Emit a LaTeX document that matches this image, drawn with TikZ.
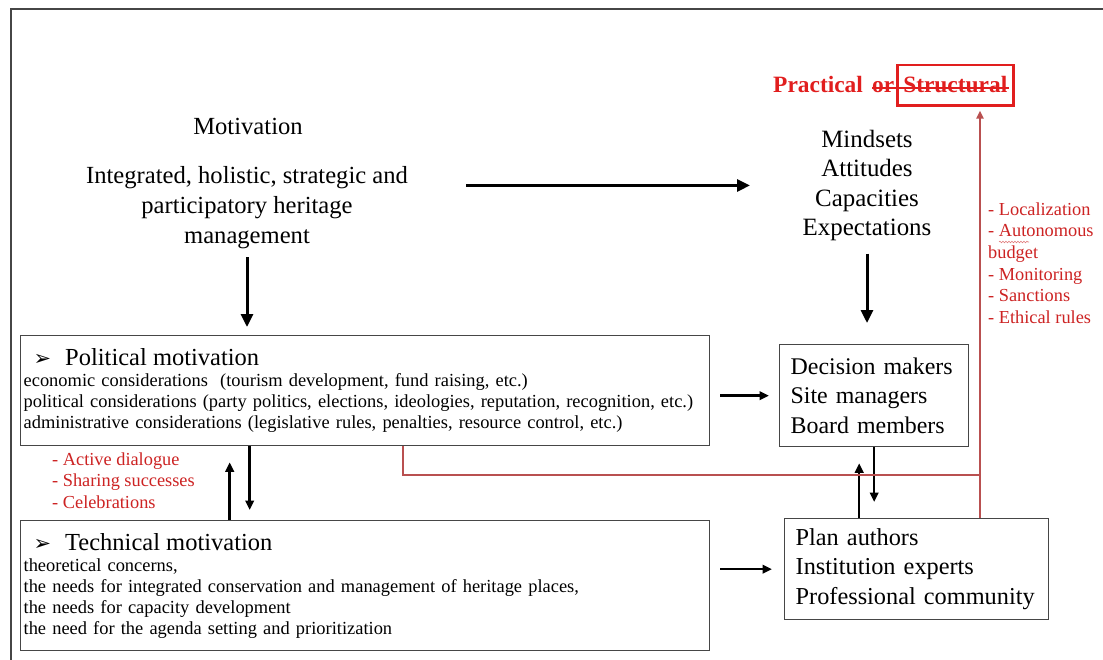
\documentclass[tikz,border=0pt]{standalone}
\usepackage{fontspec}
\setmainfont{Liberation Serif}
\newfontfamily\symfont{DejaVu Sans}
\usetikzlibrary{arrows.meta,decorations.pathmorphing}
\definecolor{boxgray}{RGB}{70,70,70}
\definecolor{linkred}{RGB}{185,80,80}
\definecolor{notered}{RGB}{205,35,35}
\definecolor{headred}{RGB}{225,30,30}
\newcommand{\bulletmark}{{\symfont\fontsize{21}{21}\selectfont ➢}}
\newcommand{\titlesize}{\fontsize{24.6}{21}\selectfont}
\begin{document}
\begin{tikzpicture}[x=1bp,y=-1bp,
  every node/.style={inner sep=0pt},
  bigfont/.style={font=\fontsize{24.7}{30}\selectfont},
  notefont/.style={font=\fontsize{18.4}{21.7}\selectfont, text=notered, align=left},
  panel/.style={draw=boxgray, line width=1.3bp, anchor=north west, align=left,
    inner ysep=0pt},
  bigarrow/.style={line width=3bp, -{Triangle[length=13pt,width=12pt]}},
  midarrow/.style={line width=2.6bp, -{Triangle[length=9.5pt,width=8.5pt]}},
  redlink/.style={draw=linkred, line width=2bp},
]
\useasboundingbox (0,0) rectangle (1103,660);
\fill[white] (0,0) rectangle (1103,660);

% outer frame
\draw[boxgray, line width=1.6bp] (11,660) -- (11,9) -- (1103,9);

% headline
\node[anchor=base west, text=headred, font=\bfseries\fontsize{23.5}{26}\selectfont] (prw) at (773,93) {Practical};
\node[anchor=base west, text=headred, font=\bfseries\fontsize{23.5}{26}\selectfont] (pro) at (872,93) {or};
\node[anchor=base west, text=headred, font=\bfseries\fontsize{23.5}{26}\selectfont,
      draw=headred, line width=2.5bp, inner xsep=6bp, inner ysep=12bp] (prs) at (896,93) {Structural};
\draw[headred, line width=1.5bp] ([yshift=5bp]pro.base west) -- ([xshift=-6bp,yshift=5bp]prs.base east);

% left column texts
\node[bigfont, anchor=base] (mot) at (248,135) {Motivation};
\node[bigfont, align=center, anchor=north] (intg) at (247,166.1)
  {Integrated, holistic, strategic and\\participatory heritage\\management};

% right column texts
\node[font=\fontsize{25}{29.5}\selectfont, align=center, anchor=north] (mind) at (867,129.9)
  {Mindsets\\Attitudes\\Capacities\\Expectations};

\node[notefont, anchor=north west] (rlist) at (988,202.4)
  {- Localization\\- Autonomous\\budget\\- Monitoring\\- Sanctions\\- Ethical rules};
\draw[notered!60, line width=0.6bp, decorate,
      decoration={snake, amplitude=0.8bp, segment length=3bp}] (999,242) -- (1029,242);

\node[notefont, anchor=north west] (llist) at (52,452.4)
  {- Active dialogue\\- Sharing successes\\- Celebrations};

% panels
\node[panel, minimum width=689bp, minimum height=110bp, text width=683bp, inner xsep=3bp,
      font=\fontsize{18.5}{21}\selectfont] (pol) at (20,335)
  {{\titlesize\hspace{10bp}\bulletmark\hspace{14bp}Political motivation}\\
   economic considerations\ \ (tourism development, fund raising, etc.)\\
   political considerations (party politics, elections, ideologies, reputation, recognition, etc.)\\
   administrative considerations (legislative rules, penalties, resource control, etc.)};

\node[panel, minimum width=689bp, minimum height=130bp, text width=683bp, inner xsep=3bp,
      font=\fontsize{18.5}{21}\selectfont] (tech) at (20,520)
  {{\titlesize\hspace{10bp}\bulletmark\hspace{14bp}Technical motivation}\\
   theoretical concerns,\\
   the needs for integrated conservation and management of heritage places,\\
   the needs for capacity development\\
   the need for the agenda setting and prioritization};

\node[panel, minimum width=189bp, minimum height=102bp, text width=167bp, inner xsep=11bp,
      font=\fontsize{24}{29.5}\selectfont] (dec) at (779,344)
  {Decision makers\\Site managers\\Board members};

\node[panel, minimum width=264bp, minimum height=101bp, text width=242bp, inner xsep=11bp,
      font=\fontsize{24.4}{30}\selectfont] (plan) at (784,518)
  {Plan authors\\Institution experts\\Professional community};

% black connectors
\draw[bigarrow, shorten <=8.6bp, shorten >=8bp] (intg.south) -- (intg.south |- pol.north);
\draw[bigarrow, shorten <=58bp, shorten >=52.5bp] (intg.east |- mind.west) -- (mind.west);
\draw[bigarrow, shorten <=12.6bp, shorten >=21bp] (mind.south) -- (mind.south |- dec.north);

\draw[midarrow, shorten <=10bp, shorten >=10bp] (pol.east |- dec.west) -- (dec.west);
\draw[midarrow, shorten <=10bp, shorten >=12bp] (tech.east |- plan.west) -- (plan.west);

\draw[midarrow, shorten >=10bp] ([xshift=-115.5bp]pol.south) -- ([xshift=-115.5bp]pol.south |- tech.north);
\draw[midarrow, shorten >=16bp] ([xshift=-135.5bp]tech.north) -- ([xshift=-135.5bp]tech.north |- pol.south);

\draw[midarrow, shorten >=16bp] (dec.south) -- (dec.south |- plan.north);
\draw[midarrow, shorten >=16bp] ([xshift=-15bp]dec.south |- plan.north) -- ([xshift=-15bp]dec.south);

% red feedback path
\coordinate (rj) at (980,475);
\draw[redlink] ([xshift=37.5bp]pol.south) |- (rj);
\draw[redlink, -{Triangle[length=8pt,width=7pt]}, shorten >=4bp] (plan.north -| rj) -- (prs.south -| rj);
\end{tikzpicture}
\end{document}
